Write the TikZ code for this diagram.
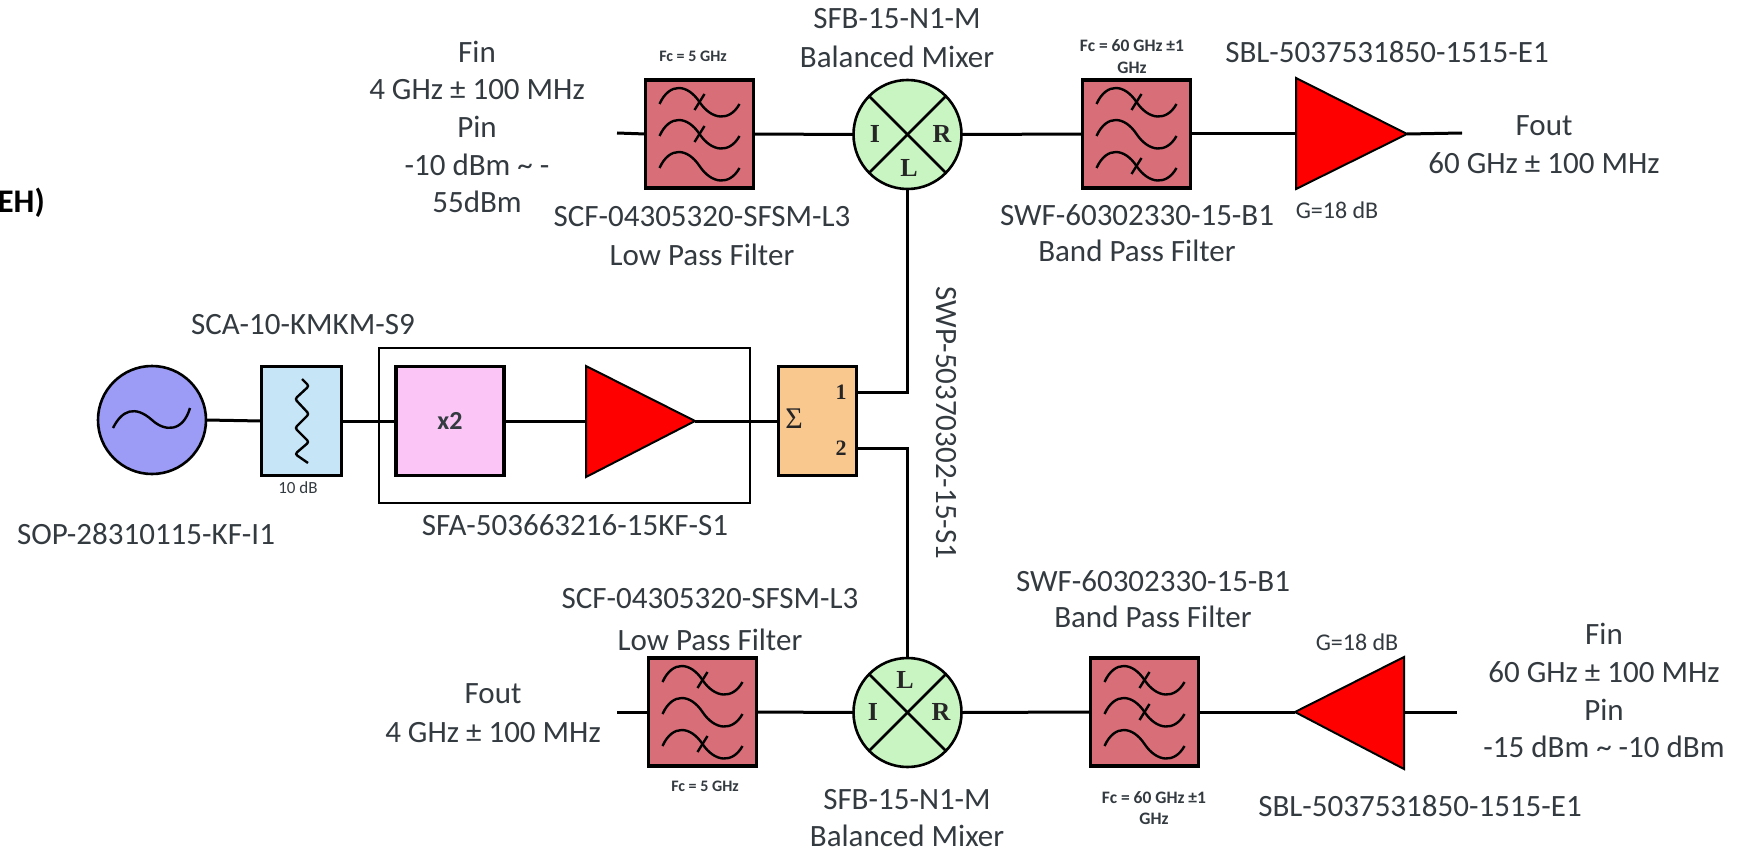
\documentclass[tikz,border=0pt]{standalone}
\usepackage{fontspec}
\setmainfont{Carlito}
\newfontfamily\serifletter{Liberation Serif}
\usetikzlibrary{shapes.geometric}
\definecolor{txt}{HTML}{333A40}
\definecolor{filterfill}{HTML}{D86F78}
\definecolor{mixfill}{HTML}{C8F5C2}
\definecolor{srcfill}{HTML}{9C9CF6}
\definecolor{attfill}{HTML}{C6E6F8}
\definecolor{dblfill}{HTML}{FBC6F6}
\definecolor{sumfill}{HTML}{F9C88F}
\tikzset{
  lbl/.style={text=txt,font=\fontsize{31}{33}\selectfont,inner sep=0pt},
  tiny/.style={text=txt,font=\fontsize{16}{18}\selectfont\bfseries,inner sep=0pt},
  wide tiny/.style={text=txt,font=\fontsize{17.5}{19}\selectfont\bfseries,inner sep=0pt},
  small/.style={text=txt,font=\fontsize{24}{26}\selectfont,inner sep=0pt},
  port/.style={text=black!85,font=\fontsize{26}{28}\selectfont\serifletter\bfseries,inner sep=0pt},
  blockbox/.style={draw=black,line width=3.4pt,minimum width=#1,outer sep=0pt,inner sep=0pt},
  filterbox/.style={blockbox=108pt,minimum height=108pt,fill=filterfill},
  mixerbox/.style={draw=black,line width=2.6pt,ellipse,fill=mixfill,minimum width=108pt,minimum height=109pt,outer sep=0pt,inner sep=0pt},
  ampshape/.style={fill=red,draw=black,line width=2pt,line join=miter},
  wire/.style={line width=3pt,black},
  thin wave/.style={line width=2.4pt,black}
}
\newcommand{\wavecurve}[3]{% cx cy cross(1/0)
  \draw[thin wave] (#1-40,#2+2) .. controls (#1-30,#2-20) and (#1-12,#2-18) .. (#1,#2) .. controls (#1+12,#2+18) and (#1+30,#2+20) .. (#1+40,#2+2);
  \ifnum#3=1
    \draw[thin wave] (#1-5,#2+8) -- (#1+5,#2-8);
  \fi
}
\newcommand{\filterglyph}[5]{% cx cy a b c
  \wavecurve{#1}{#2-32}{#3}
  \wavecurve{#1}{#2}{#4}
  \wavecurve{#1}{#2+32}{#5}
}
\newcommand{\mixercross}[1]{%
  \draw[line width=2.6pt,black] (#1.45) -- (#1.225);
  \draw[line width=2.6pt,black] (#1.135) -- (#1.315);
}
\begin{document}
\begin{tikzpicture}[x=1pt,y=-1pt]
\useasboundingbox (0,0) rectangle (1744,853);
\fill[white] (0,0) rectangle (1744,853);

% free ends
\coordinate (tlin) at (617,133);
\coordinate (trout) at (1462,133);
\coordinate (blin) at (617,712);
\coordinate (brin) at (1457,712);

% outer frame
\node[draw=black,line width=1.6pt,minimum width=371pt,minimum height=155pt,outer sep=0pt,inner sep=0pt,anchor=north west] (frame) at (379,348) {};

% top row
\node[filterbox] (ftl) at (699.5,134) {};
\node[mixerbox] (mt) at (907.5,134.5) {};
\node[filterbox] (ftr) at (1136.5,134) {};
\coordinate (atin) at (1296,134);
\coordinate (atout) at (1407,134);

% bottom row
\node[filterbox] (fbl) at (702.5,712) {};
\node[mixerbox] (mb) at (907.5,712.5) {};
\node[filterbox] (fbr) at (1144.5,712) {};
\coordinate (abin) at (1404,712);
\coordinate (about) at (1295,712);

% middle row
\node[draw=black,line width=2.6pt,circle,fill=srcfill,minimum size=108pt,outer sep=0pt,inner sep=0pt] (src) at (152,420) {};
\node[blockbox=80pt,minimum height=109pt,fill=attfill] (att) at (301.5,421) {};
\node[blockbox=108pt,minimum height=109pt,fill=dblfill,text=txt,font=\fontsize{26}{28}\selectfont\bfseries] (dbl) at (450,421) {x2};
\coordinate (amin) at (586,421);
\coordinate (amout) at (695,421);
\node[blockbox=78pt,minimum height=109pt,fill=sumfill] (sum) at (817.5,421) {};
\coordinate (p1) at (sum.east |- 0,392);
\coordinate (p2) at (sum.east |- 0,448);

% wires
\draw[wire] (tlin) -- (ftl.west);
\draw[wire] (ftl.east) -- (mt.west);
\draw[wire] (mt.east) -- (ftr.west);
\draw[wire] (ftr.east) -- (atin);
\draw[wire] (atout) -- (trout);
\draw[wire] (blin) -- (fbl.west);
\draw[wire] (fbl.east) -- (mb.west);
\draw[wire] (mb.east) -- (fbr.west);
\draw[wire] (fbr.east) -- (about);
\draw[wire] (abin) -- (brin);
\draw[wire] (src.east) -- (att.west);
\draw[wire] (att.east) -- (dbl.west);
\draw[wire] (dbl.east) -- (amin);
\draw[wire] (amout) -- (sum.west);
\draw[wire] (p1) -| (mt.south);
\draw[wire] (p2) -| (mb.north);

% amplifiers
\draw[ampshape] (1296,78) -- (1407,134) -- (1296,189) -- cycle;
\draw[ampshape] (1404,657) -- (1295,712) -- (1404,769) -- cycle;
\draw[ampshape] (586,366) -- (695,421) -- (586,477) -- cycle;

% glyphs
\filterglyph{699.5}{134}{1}{1}{0}
\filterglyph{1136.5}{134}{1}{0}{1}
\filterglyph{702.5}{712}{1}{0}{1}
\filterglyph{1144.5}{712}{1}{1}{0}
\mixercross{mt}
\mixercross{mb}
\draw[thin wave] (113,428) .. controls (122,410) and (135,405) .. (152,420) .. controls (165,432) and (183,432) .. (190,408);
\draw[thin wave,rounded corners=2.5pt] (302,379) -- (309,386) -- (295,399) -- (309,414) -- (295,428) -- (309,442) -- (295,454) -- (308,463);

% mixer ports
\node[port] (tI) at (875,134) {I};
\node[port] (tR) at (942,134) {R};
\node[port] (tL) at (909,168) {L};
\node[port] (bI) at (873,712) {I};
\node[port] (bR) at (941,712) {R};
\node[port] (bL) at (905,680) {L};
\node[port,font=\fontsize{30}{32}\selectfont\serifletter] (sg) at (794,419) {Σ};
\node[port,font=\fontsize{22}{24}\selectfont\serifletter\bfseries] (n1) at (841,392) {1};
\node[port,font=\fontsize{22}{24}\selectfont\serifletter\bfseries] (n2) at (841,448) {2};

% labels top
\node[lbl] (t1) at (477,52) {Fin};
\node[lbl] (t2) at (477,90) {4 GHz ± 100 MHz};
\node[lbl] (t3) at (477,127) {Pin};
\node[lbl] (t4) at (477,165) {-10 dBm \textasciitilde{} -};
\node[lbl] (t5) at (477,202) {55dBm};
\node[tiny] (t6) at (693,56) {Fc = 5 GHz};
\node[lbl] (t7) at (897,19) {SFB-15-N1-M};
\node[lbl] (t8) at (897,57) {Balanced Mixer};
\node[wide tiny] (t9) at (1132,46) {Fc = 60 GHz ±1};
\node[wide tiny] (t10) at (1132,68) {GHz};
\node[lbl] (t11) at (1387,52) {SBL-5037531850-1515-E1};
\node[lbl] (t12) at (702,217) {SCF-04305320-SFSM-L3};
\node[lbl] (t13) at (702,255) {Low Pass Filter};
\node[lbl] (t14) at (1137,215) {SWF-60302330-15-B1};
\node[lbl] (t15) at (1137,251) {Band Pass Filter};
\node[small] (t16) at (1337,210) {G=18 dB};
\node[lbl] (t17) at (1544,126) {Fout};
\node[lbl] (t18) at (1544,163) {60 GHz ± 100 MHz};
% labels middle
\node[lbl,font=\fontsize{33}{35}\selectfont\bfseries,anchor=east,text=black] (t19) at (45,203) {EH)};
\node[lbl] (t20) at (303,325) {SCA-10-KMKM-S9};
\node[lbl] (t21) at (146,534) {SOP-28310115-KF-I1};
\node[small,font=\fontsize{17}{19}\selectfont] (t22) at (298,488) {10 dB};
\node[lbl] (t23) at (575,525) {SFA-503663216-15KF-S1};
\node[lbl,rotate=-90] (t24) at (946,423) {SWP-50370302-15-S1};
% labels bottom
\node[lbl] (t25) at (710,599) {SCF-04305320-SFSM-L3};
\node[lbl] (t26) at (710,640) {Low Pass Filter};
\node[lbl] (t27) at (493,694) {Fout};
\node[lbl] (t28) at (493,733) {4 GHz ± 100 MHz};
\node[tiny] (t29) at (705,786) {Fc = 5 GHz};
\node[lbl] (t30) at (907,800) {SFB-15-N1-M};
\node[lbl] (t31) at (907,836) {Balanced Mixer};
\node[wide tiny] (t32) at (1154,798) {Fc = 60 GHz ±1};
\node[wide tiny] (t33) at (1154,819) {GHz};
\node[lbl] (t34) at (1153,581) {SWF-60302330-15-B1};
\node[lbl] (t35) at (1153,617) {Band Pass Filter};
\node[small] (t36) at (1357,642) {G=18 dB};
\node[lbl] (t37) at (1604,634) {Fin};
\node[lbl] (t38) at (1604,672) {60 GHz ± 100 MHz};
\node[lbl] (t39) at (1604,710) {Pin};
\node[lbl] (t40) at (1604,747) {-15 dBm \textasciitilde{} -10 dBm};
\node[lbl] (t41) at (1420,806) {SBL-5037531850-1515-E1};
\end{tikzpicture}
\end{document}
